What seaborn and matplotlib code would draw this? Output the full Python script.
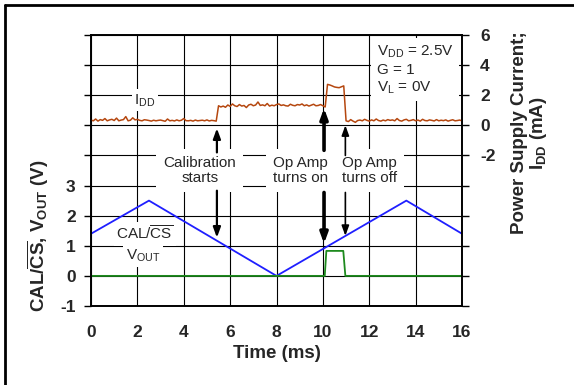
import numpy as np
import pandas as pd
import matplotlib
matplotlib.use("Agg")
import matplotlib.pyplot as plt
from matplotlib.lines import Line2D
import seaborn as sns

# === DATA ===
vout_t = [0, 2.5, 8, 13.6, 16]            # CAL/CS ramp (ms)
vout_v = [1.4, 2.5, 0, 2.5, 1.4]          # (V)

cal_t = [0, 10.08, 10.15, 10.88, 10.97, 16]   # V_OUT (ms)
cal_v = [0, 0, 0.83, 0.83, 0, 0]              # (V)

# I_DD sampled every 0.1 ms from 0 to 16 ms (mA)
idd_ma = [
    0.35, 0.30, 0.42, 0.28, 0.38, 0.33, 0.45, 0.30, 0.36, 0.40,
    0.32, 0.48, 0.30, 0.35, 0.38, 0.58, 0.30, 0.34, 0.50, 0.36,
    0.40, 0.33, 0.30, 0.37, 0.35, 0.32, 0.28, 0.34, 0.30, 0.33,
    0.35, 0.31, 0.27, 0.42, 0.30, 0.33, 0.29, 0.36, 0.30, 0.34,
    0.45, 0.31, 0.30, 0.33, 0.28, 0.35, 0.30, 0.32, 0.34, 0.30,
    0.36, 0.29, 0.33, 0.31, 0.28,
    1.30, 1.22, 1.28, 1.20, 1.35, 1.26, 1.42, 1.30, 1.25, 1.38,
    1.28, 1.32, 1.18, 1.35, 1.40, 1.30, 1.35, 1.55, 1.32, 1.36,
    1.30, 1.45, 1.28, 1.34, 1.30, 1.38, 1.42, 1.32, 1.36, 1.30,
    1.28, 1.40, 1.33, 1.30, 1.38, 1.35, 1.42, 1.30, 1.36, 1.28,
    1.34, 1.40, 1.30, 1.32, 1.38, 1.30, 1.22,
    2.72, 2.68, 2.62, 2.55, 2.52, 2.50, 2.56, 2.62,
    0.30, 0.25, 0.38, 0.28, 0.20, 0.32, 0.35, 0.30, 0.40, 0.33,
    0.28, 0.36, 0.30, 0.42, 0.32, 0.28, 0.35, 0.30, 0.38, 0.33,
    0.36, 0.30, 0.45, 0.32, 0.28, 0.36, 0.40, 0.30, 0.33, 0.38,
    0.30, 0.35, 0.28, 0.40, 0.32, 0.30, 0.36, 0.33, 0.29, 0.38,
    0.30, 0.34, 0.31, 0.36, 0.28, 0.33, 0.37, 0.30, 0.32, 0.35,
    0.30,
]
idd_t = np.linspace(0, 16, len(idd_ma))

x_ticks = [0, 2, 4, 6, 8, 10, 12, 14, 16]
left_ticks = list(range(-1, 9))
left_labels = [str(v) if v <= 3 else "" for v in left_ticks]
right_ticks = list(range(-12, 7, 2))
right_labels = [str(v) if v >= -2 else "" for v in right_ticks]

# === STYLE ===
sns.set_style("white")
plt.rcParams["font.family"] = ["Liberation Sans", "DejaVu Sans"]
plt.rcParams["mathtext.fontset"] = "custom"
plt.rcParams["mathtext.rm"] = "Liberation Sans"
plt.rcParams["mathtext.it"] = "Liberation Sans"
plt.rcParams["mathtext.bf"] = "Liberation Sans:bold"

W, H = 574, 385
fig = plt.figure(figsize=(W / 100, H / 100), dpi=100)
ax = fig.add_axes([91 / W, 1 - 306 / H, (462 - 91) / W, (306 - 35) / H])
ax2 = ax.twinx()

sns.lineplot(x=vout_t, y=vout_v, ax=ax, color="#1f1fff", lw=1.3, estimator=None, sort=False)
sns.lineplot(x=cal_t, y=cal_v, ax=ax, color="#1e8a1e", lw=1.3, estimator=None, sort=False)
sns.lineplot(x=idd_t, y=idd_ma, ax=ax2, color="#b5470f", lw=1.1, estimator=None, sort=False)

ax.set_xlim(0, 16)
ax.set_ylim(-1, 8)
ax2.set_ylim(-12, 6)
ax.set_xticks(x_ticks)
ax.set_xticklabels([str(v) for v in x_ticks], fontsize=12.5, fontweight="bold")
ax.set_yticks(left_ticks)
ax.set_yticklabels(left_labels, fontsize=12.5, fontweight="bold")
ax2.set_yticks(right_ticks)
ax2.set_yticklabels(right_labels, fontsize=12.5, fontweight="bold")
ax.tick_params(axis="x", direction="out", length=5, width=1, color="black", pad=9)
ax.tick_params(axis="y", direction="out", length=5, width=1, color="black", pad=6)
ax2.tick_params(axis="y", direction="out", length=5, width=1, color="black", pad=8)

ax.grid(True, color="black", lw=0.8)
for a in (ax, ax2):
    for s in a.spines.values():
        s.set_color("black")
        s.set_linewidth(1.2)

ax.set_xlabel("Time (ms)", fontsize=13.5, fontweight="bold", labelpad=3)

fig.text(38 / W, 1 - 236 / H, r"CAL/$\mathbf{\overline{CS}}$, V$_{\mathbf{OUT}}$ (V)",
         rotation=90, ha="center", va="center", fontsize=13.5, fontweight="bold")
fig.text(530 / W, 1 - 133 / H, "Power Supply Current;\n" + r"I$_{\mathbf{DD}}$ (mA)",
         rotation=90, ha="center", va="center", fontsize=13.5, fontweight="bold",
         multialignment="center", linespacing=1.0)

# === ANNOTATIONS (drawn on ax2 so they sit over the grid) ===
box = dict(facecolor="white", edgecolor="none", pad=2)
tr = ax.transData
ax2.text(2.33, 5.83, r"I$_{\mathrm{DD}}$", transform=tr, ha="center", va="center", fontsize=11, bbox=box)
ax2.text(4.69, 3.5, "Calibration\nstarts", transform=tr, ha="center", va="center",
         fontsize=11, linespacing=1.1, bbox=dict(facecolor="white", edgecolor="none", pad=5))
ax2.text(9.05, 3.5, "Op Amp\nturns on", transform=tr, ha="center", va="center",
         fontsize=11, linespacing=1.1, bbox=dict(facecolor="white", edgecolor="none", pad=5))
ax2.text(12.0, 3.5, "Op Amp\nturns off", transform=tr, ha="center", va="center",
         fontsize=11, linespacing=1.1, bbox=dict(facecolor="white", edgecolor="none", pad=5))
ax2.text(2.33, 1.4, r"CAL/$\mathrm{\overline{CS}}$", transform=tr, ha="center", va="center",
         fontsize=11, bbox=box)
ax2.text(2.25, 0.67, r"V$_{\mathrm{OUT}}$", transform=tr, ha="center", va="center",
         fontsize=11, bbox=box)
ax2.text(12.33, 6.85, "V$_{\\mathrm{DD}}$ = 2.5V\nG = 1\nV$_{\\mathrm{L}}$ = 0V", transform=tr,
         ha="left", va="center", fontsize=11, linespacing=1.25,
         bbox=dict(facecolor="white", edgecolor="none", pad=4))

arrows = [
    (5.43, 4.1, 4.9, 1.6), (5.43, 2.83, 1.27, 1.6),
    (10.05, 4.17, 5.57, 2.6), (10.05, 2.77, 1.07, 2.6),
    (10.97, 4.0, 5.0, 1.2), (10.97, 2.77, 1.33, 1.2),
]
for x, y0, y1, lw in arrows:
    ax2.annotate("", xy=(x, y1), xytext=(x, y0), xycoords=tr, textcoords=tr,
                 arrowprops=dict(arrowstyle="-|>,head_length=0.6,head_width=0.22",
                                 lw=lw, color="black", shrinkA=0, shrinkB=0))

# outer frame (left and top edges only)
fig.add_artist(Line2D([4.5 / W, 4.5 / W], [0, 1 - 4.5 / H], transform=fig.transFigure, color="black", lw=2))
fig.add_artist(Line2D([4.5 / W, 1], [1 - 4.5 / H, 1 - 4.5 / H], transform=fig.transFigure, color="black", lw=2))

fig.savefig("out.png", dpi=100)
